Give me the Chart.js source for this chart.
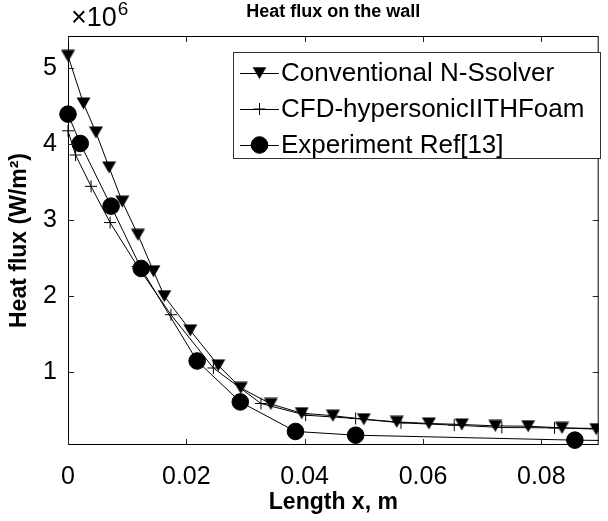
<!DOCTYPE html>
<html><head><meta charset="utf-8">
<script src="https://cdn.jsdelivr.net/npm/chart.js@4.4.0/dist/chart.umd.min.js"></script>
<style>html,body{margin:0;padding:0;background:#fff}#wrap{width:608px;height:521px;position:relative}</style>
</head><body><div id="wrap"><canvas id="c" width="608" height="521"></canvas></div>
<script>
// ---- data (x in m, heat flux in W/m^2) ----
const seriesNames = ['Conventional N-Ssolver', 'CFD-hypersonicIITHFoam', 'Experiment Ref[13]'];
const xConventional = [0, 0.00262, 0.00473, 0.00695, 0.00917, 0.01183, 0.01445, 0.01628, 0.02067, 0.0254, 0.0292, 0.03428, 0.0395, 0.04478, 0.0500, 0.05557, 0.0610, 0.06657, 0.07223, 0.07778, 0.0835, 0.08928];
const yConventional = [5.158e6, 4.533e6, 4.152e6, 3.693e6, 3.243e6, 2.807e6, 2.329e6, 2.001e6, 1.551e6, 1.092e6, 0.795e6, 0.584e6, 0.463e6, 0.430e6, 0.384e6, 0.349e6, 0.328e6, 0.315e6, 0.296e6, 0.292e6, 0.270e6, 0.253e6];
const xCFD = [0, 0.00128, 0.0039, 0.00712, 0.01178, 0.0174, 0.02457, 0.03262, 0.04017, 0.04862, 0.05628, 0.06528, 0.07333, 0.08223, 0.0905];
const yCFD = [4.174e6, 3.856e6, 3.444e6, 2.968e6, 2.391e6, 1.757e6, 1.057e6, 0.590e6, 0.437e6, 0.393e6, 0.336e6, 0.306e6, 0.275e6, 0.270e6, 0.262e6];
const xExperiment = [0, 0.00207, 0.00728, 0.01237, 0.02183, 0.02912, 0.03845, 0.04862, 0.08567, 0.0950];
const yExperiment = [4.393e6, 4.008e6, 3.184e6, 2.365e6, 1.149e6, 0.611e6, 0.223e6, 0.174e6, 0.109e6, 0.100e6];
const xTicks = [0, 0.02, 0.04, 0.06, 0.08];
const xTickLabels = ['0', '0.02', '0.04', '0.06', '0.08'];
const yTicks = [1e6, 2e6, 3e6, 4e6, 5e6];
const yTickLabels = ['1', '2', '3', '4', '5'];

const FONT = "'Liberation Sans', Arial, Helvetica, sans-serif";
const toPts = (xs, ys) => xs.map((x, i) => ({x: x, y: ys[i]}));
const clipRight = {left: false, top: false, right: 0, bottom: false};

// downward triangle marker, centred on its bounding box
function makeTriangle() {
  const c = document.createElement('canvas');
  c.width = 15; c.height = 13;
  const g = c.getContext('2d');
  g.fillStyle = '#000';
  g.beginPath();
  g.moveTo(0.5, 0.5); g.lineTo(14.5, 0.5); g.lineTo(7.5, 12.5); g.closePath();
  g.fill();
  return c;
}
const triImg = makeTriangle();

const styles = [
  {pointStyle: triImg, rotation: 0, radius: 7.5},
  {pointStyle: 'cross', rotation: 0, radius: 6},
  {pointStyle: 'circle', rotation: 0, radius: 8.3}
];

const frame = {
  id: 'frame',
  afterDatasetsDraw(chart) {
    const {ctx, chartArea: a, scales: {x, y}} = chart;
    ctx.save();
    ctx.strokeStyle = '#000';
    ctx.lineWidth = 1;
    ctx.strokeRect(a.left + 0.5, a.top + 0.5, a.right - a.left - 1, a.bottom - a.top - 1);
    ctx.strokeStyle = '#222';
    const tl = 6;
    ctx.beginPath();
    xTicks.forEach(v => {
      const px = Math.round(x.getPixelForValue(v)) + 0.5;
      ctx.moveTo(px, a.bottom); ctx.lineTo(px, a.bottom - tl);
      ctx.moveTo(px, a.top); ctx.lineTo(px, a.top + tl);
    });
    yTicks.forEach(v => {
      const py = Math.round(y.getPixelForValue(v)) + 0.5;
      ctx.moveTo(a.left, py); ctx.lineTo(a.left + tl, py);
      ctx.moveTo(a.right, py); ctx.lineTo(a.right - tl, py);
    });
    ctx.stroke();

    // title
    ctx.fillStyle = '#000';
    ctx.font = 'bold 18px ' + FONT;
    ctx.textAlign = 'center';
    ctx.textBaseline = 'middle';
    ctx.fillText('Heat flux on the wall', (a.left + a.right) / 2, 12);

    // exponent label
    ctx.textAlign = 'left';
    ctx.textBaseline = 'alphabetic';
    ctx.font = '27px ' + FONT;
    ctx.fillText('\u00d710', a.left + 3, 26);
    const w = ctx.measureText('\u00d710').width;
    ctx.font = '19px ' + FONT;
    ctx.fillText('6', a.left + 3 + w + 1, 15);

    // legend
    const L = 233, T = 52, R = 600, B = 158;
    ctx.fillStyle = '#fff';
    ctx.fillRect(L, T, R - L, B - T);
    ctx.strokeStyle = '#333';
    ctx.strokeRect(L + 0.5, T + 0.5, R - L, B - T);
    const rows = [73, 109, 145];
    seriesNames.forEach((name, i) => {
      const yy = rows[i];
      ctx.strokeStyle = '#000';
      ctx.lineWidth = 1;
      ctx.beginPath();
      ctx.moveTo(240, yy + 0.5); ctx.lineTo(279, yy + 0.5);
      ctx.stroke();
      ctx.fillStyle = '#000';
      Chart.helpers.drawPoint(ctx, {
        pointStyle: styles[i].pointStyle, rotation: styles[i].rotation,
        radius: styles[i].radius, borderWidth: 1
      }, 259.5, yy);
      ctx.fillStyle = '#000';
      ctx.font = '26px ' + FONT;
      ctx.textAlign = 'left';
      ctx.textBaseline = 'middle';
      ctx.fillText(name, 281, yy + 1);
    });
    ctx.restore();
  }
};

const mk = (i, xs, ys, order) => ({
  label: seriesNames[i],
  data: toPts(xs, ys),
  borderColor: '#000',
  backgroundColor: '#000',
  borderWidth: 1,
  pointStyle: styles[i].pointStyle,
  pointRotation: styles[i].rotation,
  pointRadius: styles[i].radius,
  pointBackgroundColor: '#000',
  pointBorderColor: '#000',
  pointBorderWidth: 1,
  showLine: true,
  tension: 0,
  clip: clipRight,
  order: order
});

new Chart(document.getElementById('c'), {
  type: 'scatter',
  data: {
    datasets: [
      mk(0, xConventional, yConventional, 3),
      mk(1, xCFD, yCFD, 2),
      mk(2, xExperiment, yExperiment, 1)
    ]
  },
  options: {
    responsive: false,
    animation: false,
    devicePixelRatio: 1,
    layout: {padding: {left: 0, right: 2, top: 36, bottom: 0}},
    plugins: {legend: {display: false}, title: {display: false}, tooltip: {enabled: false}},
    scales: {
      x: {
        type: 'linear', min: 0, max: 0.0897,
        afterBuildTicks: s => { s.ticks = xTicks.map(v => ({value: v})); },
        afterFit: s => { s.height = 76; },
        grid: {display: false, drawTicks: false},
        border: {display: false},
        ticks: {
          padding: 17, color: '#000', font: {family: FONT, size: 25},
          callback: (v) => { const k = xTicks.indexOf(v); return k >= 0 ? xTickLabels[k] : ''; }
        },
        title: {display: true, text: 'Length x, m', color: '#000',
          font: {family: FONT, size: 23, weight: 'bold'}, padding: {top: 0, bottom: 5}}
      },
      y: {
        type: 'linear', min: 0.045e6, max: 5.42e6,
        afterBuildTicks: s => { s.ticks = yTicks.map(v => ({value: v})); },
        afterFit: s => { s.width = 68; },
        grid: {display: false, drawTicks: false},
        border: {display: false},
        ticks: {
          padding: 11, color: '#000', font: {family: FONT, size: 25},
          callback: (v) => { const k = yTicks.indexOf(v); return k >= 0 ? yTickLabels[k] : ''; }
        },
        title: {display: true, text: 'Heat flux (W/m\u00b2)', color: '#000',
          font: {family: FONT, size: 23, weight: 'bold'}, padding: {top: 6, bottom: 0}}
      }
    }
  },
  plugins: [frame]
});
</script></body></html>
